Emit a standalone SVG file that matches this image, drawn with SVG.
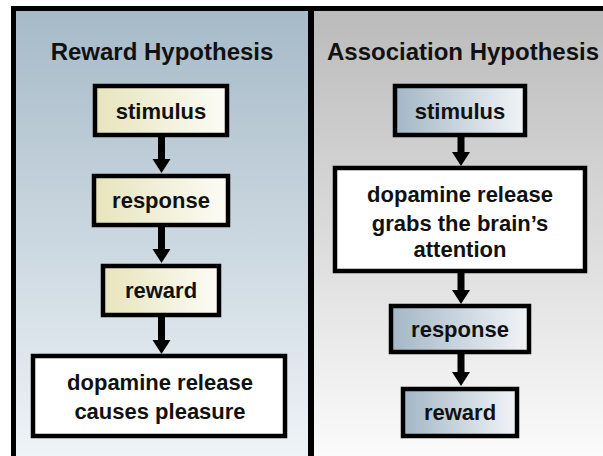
<svg xmlns="http://www.w3.org/2000/svg" width="603" height="456" viewBox="0 0 603 456">
  <defs>
    <linearGradient id="panelBlue" x1="0" y1="0" x2="0" y2="1">
      <stop offset="0" stop-color="#a6bac8"/>
      <stop offset="1" stop-color="#eef3f7"/>
    </linearGradient>
    <linearGradient id="panelGrey" x1="0" y1="0" x2="0" y2="1">
      <stop offset="0" stop-color="#bbbbbb"/>
      <stop offset="1" stop-color="#fbfbfb"/>
    </linearGradient>
    <linearGradient id="boxCream" x1="0" y1="0" x2="1" y2="0">
      <stop offset="0" stop-color="#e7e4bc"/>
      <stop offset="1" stop-color="#fcfcf6"/>
    </linearGradient>
    <linearGradient id="boxSteel" x1="0" y1="0" x2="1" y2="0">
      <stop offset="0" stop-color="#a3b7c6"/>
      <stop offset="1" stop-color="#f1f4f7"/>
    </linearGradient>
    <!-- arrowhead starts where the shaft ends -->
    <marker id="head" markerUnits="userSpaceOnUse" markerWidth="16" markerHeight="20" refX="0" refY="9" orient="auto" overflow="visible">
      <path d="M0,0 L14,9 L0,18 Z" fill="#000"/>
    </marker>
  </defs>
  <style>
    .box { stroke: #000; stroke-width: 4.5; }
    .cream { fill: url(#boxCream); }
    .steel { fill: url(#boxSteel); }
    .plain { fill: #ffffff; }
    .lbl { font-family: "Liberation Sans", Arial, sans-serif; font-weight: bold; font-size: 22px; fill: #111; text-anchor: middle; }
    .title { font-family: "Liberation Sans", Arial, sans-serif; font-weight: bold; font-size: 24px; fill: #111; text-anchor: middle; }
    .wire { stroke: #000; stroke-width: 7; fill: none; marker-end: url(#head); }
  </style>

  <!-- frame and panels -->
  <g id="frame">
    <rect x="11" y="6" width="592" height="450" fill="#000"/>
    <rect x="16" y="11" width="292" height="445" fill="url(#panelBlue)"/>
    <rect x="314" y="11" width="289" height="445" fill="url(#panelGrey)"/>
    <text class="title" x="162" y="60">Reward Hypothesis</text>
    <text class="title" x="463" y="60">Association Hypothesis</text>
  </g>

  <!-- connectors -->
  <g id="connectors">
    <line class="wire" x1="161.5" y1="137" x2="161.5" y2="159"/>
    <line class="wire" x1="161.5" y1="227" x2="161.5" y2="249"/>
    <line class="wire" x1="161.5" y1="317" x2="161.5" y2="340"/>
    <line class="wire" x1="461" y1="137" x2="461" y2="152"/>
    <line class="wire" x1="461" y1="273" x2="461" y2="290"/>
    <line class="wire" x1="461" y1="354" x2="461" y2="372"/>
  </g>

  <!-- reward hypothesis column -->
  <g id="r-stimulus">
    <rect class="box cream" x="95" y="86" width="132" height="49"/>
    <text class="lbl" x="161" y="118.5">stimulus</text>
  </g>
  <g id="r-response">
    <rect class="box cream" x="94" y="176" width="134" height="49"/>
    <text class="lbl" x="161" y="208">response</text>
  </g>
  <g id="r-reward">
    <rect class="box cream" x="103" y="266" width="116" height="49"/>
    <text class="lbl" x="161" y="298">reward</text>
  </g>
  <g id="r-dopamine">
    <rect class="box plain" x="33" y="356" width="252" height="80"/>
    <text class="lbl" x="160" y="390">dopamine release</text>
    <text class="lbl" x="160" y="419">causes pleasure</text>
  </g>

  <!-- association hypothesis column -->
  <g id="a-stimulus">
    <rect class="box steel" x="395" y="86" width="130" height="49"/>
    <text class="lbl" x="460" y="118.5">stimulus</text>
  </g>
  <g id="a-dopamine">
    <rect class="box plain" x="335" y="168" width="250" height="103"/>
    <text class="lbl" x="460" y="202">dopamine release</text>
    <text class="lbl" x="460" y="231">grabs the brain’s</text>
    <text class="lbl" x="460" y="257">attention</text>
  </g>
  <g id="a-response">
    <rect class="box steel" x="391" y="306" width="138" height="46"/>
    <text class="lbl" x="460" y="337">response</text>
  </g>
  <g id="a-reward">
    <rect class="box steel" x="403" y="389" width="114" height="47"/>
    <text class="lbl" x="460" y="420">reward</text>
  </g>
</svg>
